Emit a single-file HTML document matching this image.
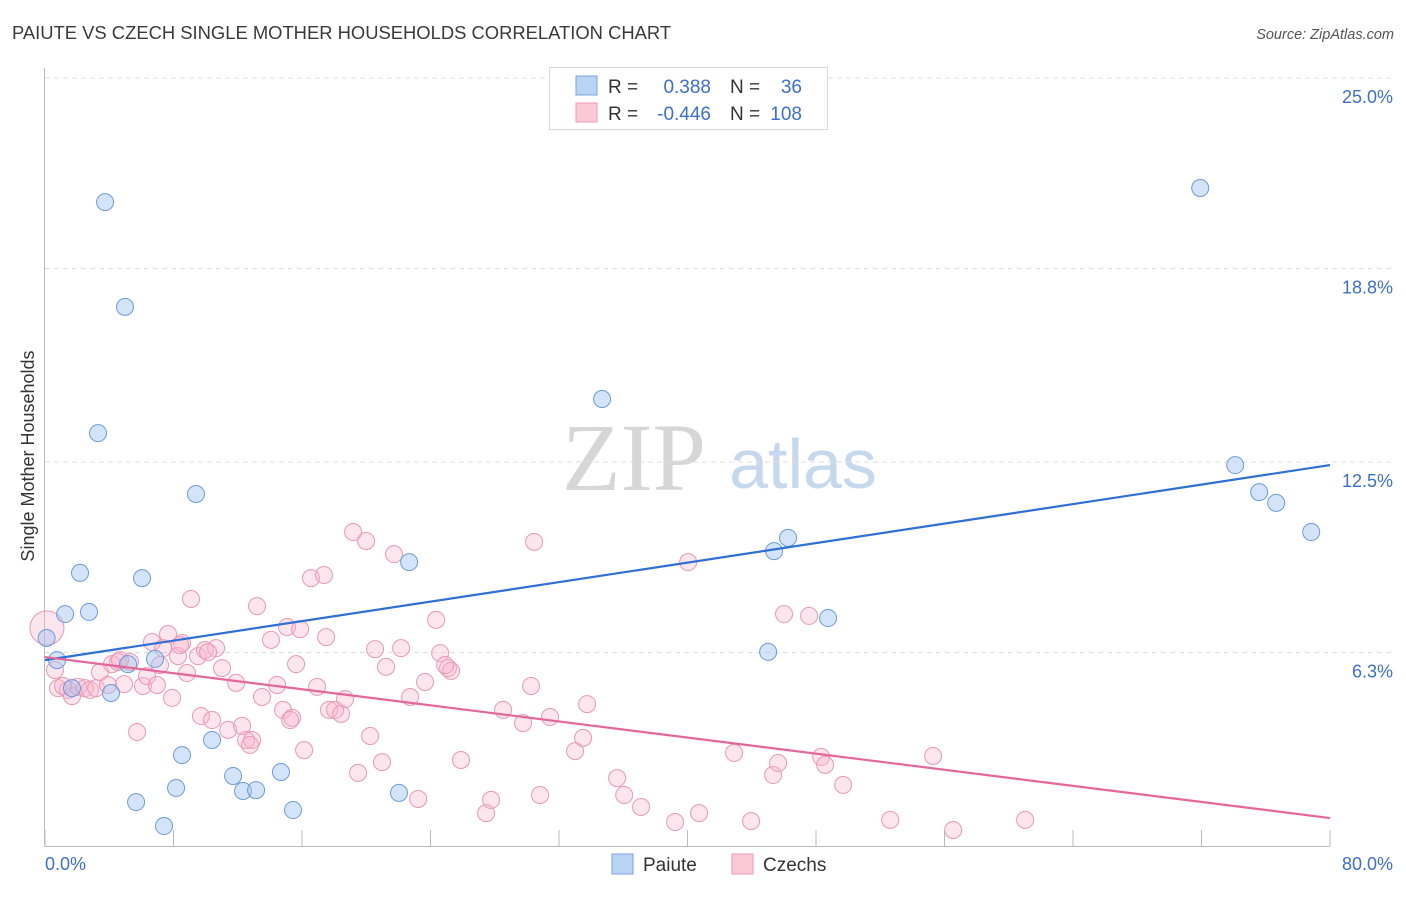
<!DOCTYPE html>
<html><head><meta charset="utf-8"><style>
body{margin:0;background:#fff;font-family:"Liberation Sans",sans-serif;}
svg text{font-family:"Liberation Sans",sans-serif;}
</style></head><body>
<svg id="c" width="1406" height="892" xmlns="http://www.w3.org/2000/svg">
<text x="12" y="39" font-size="18.4" fill="#3a3a3a">PAIUTE VS CZECH SINGLE MOTHER HOUSEHOLDS CORRELATION CHART</text>
<text x="1394" y="39" font-size="14.5" fill="#555" text-anchor="end" font-style="italic">Source: ZipAtlas.com</text>
<g>
<text x="634" y="490" font-size="96" fill="#d6d6d6" text-anchor="middle" font-family="Liberation Serif,serif" style="font-family:'Liberation Serif',serif">ZIP</text>
<text x="803" y="488" font-size="70" fill="#c6d8ee" text-anchor="middle">atlas</text>
</g>
<g id="grid"></g>
<g id="axes"></g>
<g id="pts"></g>
<text transform="translate(34,456) rotate(-90)" font-size="18" fill="#333" text-anchor="middle">Single Mother Households</text>
<g>
<rect x="549.5" y="67.5" width="278" height="62" fill="#fff" stroke="#d8d8d8"/>
<rect x="576" y="76" width="21" height="19" fill="#b8d3f4" stroke="#7aa6e0"/>
<rect x="576" y="103" width="21" height="19" fill="#fbc8d8" stroke="#ec9ab6"/>
<text x="608" y="93" font-size="19" fill="#333">R =</text>
<text x="711" y="93" font-size="19" fill="#3b6fd0" text-anchor="end">0.388</text>
<text x="730" y="93" font-size="19" fill="#333">N =</text>
<text x="802" y="93" font-size="19" fill="#3b6fd0" text-anchor="end">36</text>
<text x="608" y="120" font-size="19" fill="#333">R =</text>
<text x="711" y="120" font-size="19" fill="#3b6fd0" text-anchor="end">-0.446</text>
<text x="730" y="120" font-size="19" fill="#333">N =</text>
<text x="802" y="120" font-size="19" fill="#3b6fd0" text-anchor="end">108</text>
</g>
<g>
<rect x="612" y="854" width="21" height="20" fill="#b8d3f4" stroke="#7aa6e0"/>
<text x="643" y="871" font-size="19" fill="#333">Paiute</text>
<rect x="732" y="854" width="21" height="20" fill="#fbc8d8" stroke="#ec9ab6"/>
<text x="763" y="871" font-size="19" fill="#333">Czechs</text>
</g>
</svg>
<script>
const yTicks=[25.0,18.8,12.5,6.3];
const yTickLabels=["25.0%","18.8%","12.5%","6.3%"];
const xTicks=[0,8,16,24,32,40,48,56,64,72,80];
const paiuteX=[0.1,0.75,1.25,2.18,2.74,3.3,3.74,4.11,4.98,5.17,5.67,6.04,6.85,7.41,8.16,8.53,9.4,10.4,11.71,12.33,13.14,14.69,15.44,22.04,22.67,34.68,45.02,45.39,46.26,48.75,71.92,74.1,75.59,76.65,78.83,1.68];
const paiuteY=[6.77,6.05,7.55,8.89,7.62,13.44,20.96,4.98,17.55,5.92,1.43,8.72,6.09,0.65,1.89,2.96,11.46,3.45,2.28,1.79,1.82,2.41,1.17,1.73,9.24,14.55,6.32,9.6,10.03,7.42,21.42,12.4,11.52,11.17,10.22,5.14];
const czechX=[0.12,0.62,0.81,1.43,1.68,2.05,2.49,2.8,3.18,3.42,3.92,4.17,4.55,4.92,5.29,5.73,6.1,6.35,6.66,6.97,7.35,7.66,7.91,8.28,8.53,8.84,9.09,9.53,9.96,9.71,10.4,10.65,11.02,11.4,11.9,12.27,12.52,12.89,13.2,13.51,14.07,14.45,14.82,15.07,15.38,15.63,15.88,16.13,16.56,16.94,17.37,17.5,17.68,18.06,18.43,18.68,19.18,19.49,19.99,20.24,20.55,20.98,21.23,21.73,22.17,22.73,23.23,23.66,24.35,24.6,25.09,25.28,25.9,27.46,27.77,28.52,29.76,30.26,30.45,30.82,31.44,33.0,33.5,33.75,35.62,36.06,37.11,39.23,40.04,40.72,42.9,43.96,45.33,45.64,46.01,47.57,48.32,48.57,49.69,52.62,55.29,56.54,61.02,8.41,4.67,1.12,7.16,12.76,15.26,24.91,10.15];
const czechY=[7.1,5.73,5.14,5.08,4.88,5.18,5.14,5.08,5.14,5.66,5.24,5.92,5.99,5.27,5.99,3.71,5.21,5.53,6.64,5.24,6.44,6.9,4.82,6.18,6.61,5.63,8.04,6.18,6.38,4.23,4.1,6.44,5.79,3.78,5.31,3.91,3.45,3.45,7.81,4.85,6.71,5.24,4.43,7.13,4.17,5.92,7.06,3.12,8.72,5.18,8.82,6.8,4.43,4.43,4.3,4.78,10.22,2.38,9.93,3.58,6.41,2.73,5.83,9.5,6.44,4.85,1.53,5.34,7.36,6.28,5.79,5.7,2.8,1.07,1.5,4.43,4.0,5.21,9.9,1.66,4.2,3.09,3.52,4.62,2.21,1.66,1.27,0.78,9.24,1.07,3.03,0.81,2.31,2.7,7.55,7.49,2.9,2.64,1.99,0.85,2.93,0.52,0.85,6.54,6.05,5.21,5.89,3.29,4.1,5.89,6.31];
const paiuteTrend=[6.05,12.4];
const czechTrend=[6.15,0.91];
const NS="http://www.w3.org/2000/svg";
const X=v=>45+v*(1285/80), Y=v=>846-v*30.72;
function mk(tag,attrs,parent){const e=document.createElementNS(NS,tag);for(const k in attrs)e.setAttribute(k,attrs[k]);parent.appendChild(e);return e;}
const grid=document.getElementById('grid'),axes=document.getElementById('axes'),pts=document.getElementById('pts');
yTicks.forEach((t,i)=>{
 const l=mk('line',{x1:45,x2:1395,y1:Y(t),y2:Y(t),stroke:'#dedede','stroke-dasharray':'5,4'},grid);
 
 
 const tx=mk('text',{x:1393,y:Y(t)+25,'font-size':18,fill:'#3b6fd0','text-anchor':'end'},axes);
 tx.textContent=yTickLabels[i];
 
 
});
let a=mk('line',{x1:44.5,x2:44.5,y1:68,y2:846,stroke:'#bbb'},axes);


a=mk('line',{x1:45,x2:1330,y1:846.5,y2:846.5,stroke:'#bbb'},axes);


xTicks.forEach(t=>{const l=mk('line',{x1:X(t),x2:X(t),y1:830,y2:846,stroke:'#bbb'},axes);
 
 });
let t0=mk('text',{x:45,y:870,'font-size':18,fill:'#3b6fd0'},axes);t0.textContent='0.0%';


t0=mk('text',{x:1393,y:870,'font-size':18,fill:'#3b6fd0','text-anchor':'end'},axes);t0.textContent='80.0%';


czechX.forEach((x,i)=>{const c=mk('circle',{cx:X(x),cy:Y(czechY[i]),r:i==0?17:8.5,fill:'rgba(248,180,202,0.35)',stroke:'#ea98b5','stroke-width':1},pts);
 
 });
paiuteX.forEach((x,i)=>{const c=mk('circle',{cx:X(x),cy:Y(paiuteY[i]),r:8.5,fill:'rgba(160,196,240,0.45)',stroke:'#6c9bdc','stroke-width':1},pts);
 
 });
let tl=mk('line',{x1:X(0),y1:Y(paiuteTrend[0]),x2:X(80),y2:Y(paiuteTrend[1]),stroke:'#2f6fd6','stroke-width':2.2},pts);


tl=mk('line',{x1:X(0),y1:Y(czechTrend[0]),x2:X(80),y2:Y(czechTrend[1]),stroke:'#e5679a','stroke-width':2.2},pts);


</script>
</body></html>
